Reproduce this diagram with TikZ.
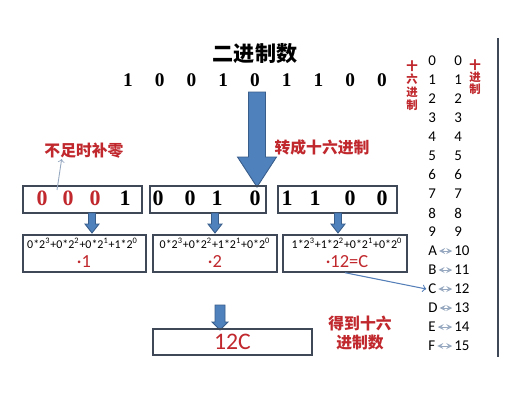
\documentclass[tikz,border=0pt]{standalone}
\usepackage{fontspec}
\setmainfont{Liberation Serif}
\newfontfamily\zhfont{Noto Sans CJK SC}
\newfontfamily\calfont{Carlito}
\usepackage{tikz}
\usetikzlibrary{calc}
\definecolor{hzred}{RGB}{192,40,45}
\definecolor{arrblue}{RGB}{79,129,189}
\definecolor{arredge}{RGB}{56,93,138}
\definecolor{boxedge}{RGB}{62,72,86}
\definecolor{thinblue}{RGB}{84,126,184}
\definecolor{pale}{RGB}{150,168,192}
\newcommand{\blkarrow}[6]{%
  \filldraw[fill=arrblue,draw=arredge,line width=0.5pt]
    (#1-#5,#2) -- (#1+#5,#2) -- (#1+#5,#3) -- (#1+#6,#3) -- (#1,#4)
    -- (#1-#6,#3) -- (#1-#5,#3) -- cycle;}

\begin{document}
\begin{tikzpicture}[x=0.02cm, y=-0.02cm, every node/.style={inner sep=0pt},
  rowdig/.style={font=\bfseries\fontsize{11}{13}\selectfont},
  boxdig/.style={font=\bfseries\fontsize{12.5}{14}\selectfont},
  grp/.style={draw=boxedge, line width=0.8pt, minimum height=0.54cm},
  calc/.style={draw=boxedge, line width=0.8pt, minimum height=0.74cm},
  sumtxt/.style={font=\calfont\fontsize{6.8}{8}\selectfont},
  restxt/.style={font=\calfont\fontsize{10.5}{12}\selectfont, text=hzred},
  redzh/.style={font=\zhfont\bfseries\fontsize{9}{11}\selectfont, text=hzred},
  tabdig/.style={font=\calfont\fontsize{8.5}{10}\selectfont, anchor=west},
  vlab/.style={font=\zhfont\bfseries\fontsize{6.5}{7.4}\selectfont, text=hzred, align=center}]
  \useasboundingbox (0,0) rectangle (507,417);
  \fill[white] (0,0) rectangle (507,417);

  \node[font=\zhfont\bfseries\fontsize{12}{14}\selectfont] (title) at (255,54) {二进制数};
  \foreach \b [count=\i] in {1,0,0,1,0,1,1,0,0}
    \node[rowdig] (b\i) at (96.25+31.75*\i,80) {\b};

  \blkarrow{257}{92}{157}{187}{8.5}{19.5}
  \node[redzh] (pad) at (84,151) {不足时补零};
  \node[redzh] (conv) at (322,147) {转成十六进制};

  \node[grp, minimum width=2.38cm] (grp1) at (82.5,199.5) {};
  \node[grp, minimum width=2.32cm] (grp2) at (208,199.5) {};
  \node[grp, minimum width=2.38cm] (grp3) at (337.5,199.5) {};
  \foreach \x/\d/\c [count=\i] in {42/0/hzred, 68/0/hzred, 95/0/hzred, 125/1/black,
      158/0/black, 190/0/black, 217/1/black, 255/0/black,
      287/1/black, 315/1/black, 350/0/black, 382/0/black}
    \node[boxdig, text=\c] (g\i) at (\x,198) {\d};
  \coordinate (padfoot) at (57,190);
  \draw[->, pale, line width=0.5pt] (padfoot) -- ($(pad.south west)!0.22!(pad.south east)$);

  \blkarrow{92}{213}{224}{233}{3.5}{7}
  \blkarrow{215}{213}{224}{233}{3.5}{7}
  \blkarrow{338}{213}{224}{233}{3.5}{7}

  \node[calc, minimum width=2.46cm] (fA) at (84.5,253.5) {};
  \node[calc, minimum width=2.48cm] (fB) at (215,253.5) {};
  \node[calc, minimum width=2.48cm] (fC) at (345,253.5) {};
  \node[sumtxt] (sA) at (82.5,243) {0*2\textsuperscript{3}+0*2\textsuperscript{2}+0*2\textsuperscript{1}+1*2\textsuperscript{0}};
  \node[sumtxt] (sB) at (215,243) {0*2\textsuperscript{3}+0*2\textsuperscript{2}+1*2\textsuperscript{1}+0*2\textsuperscript{0}};
  \node[sumtxt] (sC) at (347,243) {1*2\textsuperscript{3}+1*2\textsuperscript{2}+0*2\textsuperscript{1}+0*2\textsuperscript{0}};
  \node[restxt] (rA) at (84,262) {·1};
  \node[restxt] (rB) at (215,262) {·2};
  \node[restxt] (rC) at (347,262) {·12=C};

  \blkarrow{220}{305}{322}{330}{5}{8}
  \node[draw=boxedge, line width=0.8pt, minimum width=3.18cm, minimum height=0.52cm,
    font=\calfont\fontsize{13.5}{15}\selectfont, text=hzred] (hexres) at (232.5,342) {12C};
  \node[redzh, align=center, font=\zhfont\bfseries\fontsize{9}{11.3}\selectfont] (got) at (360,333) {得到十六\\进制数};

  \node[vlab] (vhex) at (412,86) {十\\六\\进\\制};
  \node[vlab, font=\zhfont\bfseries\fontsize{6.5}{6.8}\selectfont] (vdec) at (475,77.5) {十\\进\\制};
  \foreach \h [count=\i from 0] in {0,1,2,3,4,5,6,7,8,9,A,B,C,D,E,F} {
    \node[tabdig] (h\h) at (428,61+19*\i) {\h};
    \node[tabdig] (d\i) at (454,61+19*\i) {\i};
    \ifnum\i>9
      \draw[<->, >=stealth, pale, line width=0.5pt, shorten <=1pt, shorten >=1pt] (h\h.east) -- (d\i.west);
    \fi
  }
  \draw[->, thinblue, line width=0.6pt] (fC.south) -- ([xshift=-1pt]hC.west);
  \draw[boxedge, line width=0.8pt] (498,38) -- (498,357);
\end{tikzpicture}
\end{document}
